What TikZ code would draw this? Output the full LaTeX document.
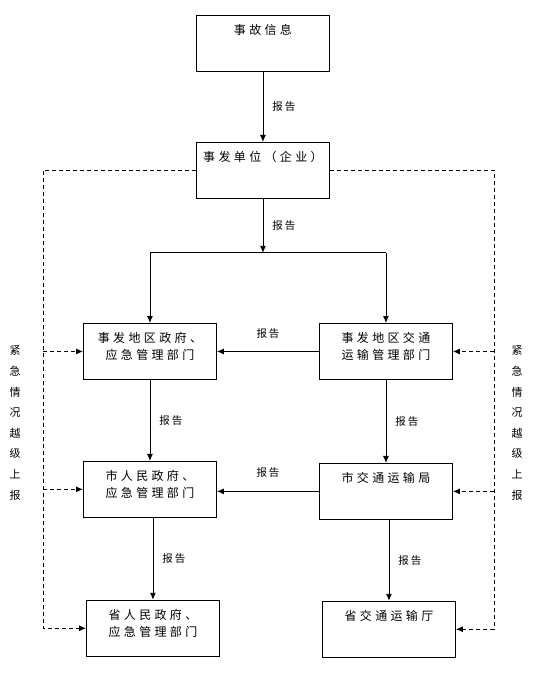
\documentclass[tikz,border=0pt]{standalone}
\usepackage{fontspec}
\newfontfamily\cjk[LetterSpace=28]{Noto Sans CJK SC}
\newfontfamily\cjklabel[LetterSpace=18]{Noto Sans CJK SC}
\newfontfamily\cjkside{Noto Sans CJK SC}
\usetikzlibrary{arrows.meta,positioning}
\newcommand{\boxtext}[1]{\parbox[c][56pt][t]{133pt}{\centering\rule{0pt}{19pt}#1}}

\begin{document}
\begin{tikzpicture}[x=1pt, y=-1pt, every node/.style={transform shape}]
\tikzset{
  box/.style={draw, line width=0.9pt, inner sep=0pt, font=\cjk\fontsize{12pt}{17pt}\selectfont},
  report/.style={font=\cjklabel\fontsize{10.5pt}{12pt}\selectfont, inner sep=1pt},
  side/.style={font=\cjkside\fontsize{11pt}{20.6pt}\selectfont, align=center, inner sep=0pt},
  link/.style={draw, line width=0.9pt},
  flow/.style={link, -{Latex[length=7pt, width=6pt]}},
  skip/.style={draw, line width=0.9pt, dash pattern=on 4pt off 3pt},
  skiparrow/.style={skip, -{Latex[length=7pt, width=6pt]}}
}
\useasboundingbox (0,0) rectangle (535,681);
\node[box, anchor=north west] (info) at (196,15) {\boxtext{事故信息}};
\node[box, below=70pt of info] (unit) {\boxtext{事发单位（企业）}};
\node[box, anchor=north west] (localgov) at (83,323) {\boxtext{事发地区政府、\\应急管理部门}};
\node[box, anchor=north west] (localtrans) at (319,323) {\boxtext{事发地区交通\\运输管理部门}};
\node[box, below=81pt of localgov] (citygov) {\boxtext{市人民政府、\\应急管理部门}};
\node[box, below=83pt of localtrans] (citytrans) {\boxtext{市交通运输局}};
\node[box, below=82pt of citygov, xshift=3pt] (provgov) {\boxtext{省人民政府、\\应急管理部门}};
\node[box, below=81pt of citytrans, xshift=3pt] (provtrans) {\boxtext{省交通运输厅}};
\node[side] (leftnote) at (15,423) {紧\\急\\情\\况\\越\\级\\上\\报};
\node[side] (rightnote) at (517,423) {紧\\急\\情\\况\\越\\级\\上\\报};
\coordinate[below=54pt of unit.south] (split);
\coordinate (leftrail) at (43,0);
\coordinate (rightrail) at (494,0);
% reporting chain
\draw[flow] (info) -- node[report, right=8pt] {报告} (unit);
\draw[flow] (unit.south) -- node[report, right=8pt] {报告} (split);
\draw[link] (localgov.north |- split) -- (localtrans.north |- split);
\draw[flow] (localgov.north |- split) -- (localgov.north);
\draw[flow] (localtrans.north |- split) -- (localtrans.north);
\draw[flow] (localtrans) -- node[report, above=12pt] {报告} (localgov);
\draw[flow] (citytrans.west) -- node[report, above=12pt] {报告} (citytrans.west -| citygov.east);
\draw[flow] (localgov) -- node[report, right=8pt] {报告} (citygov);
\draw[flow] (localtrans) -- node[report, right=8pt] {报告} (citytrans);
\draw[flow] (provgov.north |- citygov.south) -- node[report, right=8pt] {报告} (provgov.north);
\draw[flow] (provtrans.north |- citytrans.south) -- node[report, right=8pt] {报告} (provtrans.north);
% emergency bypass
\draw[skiparrow] (unit.west) -| (leftrail |- provgov.west) -- (provgov.west);
\draw[skiparrow] (leftrail |- localgov.west) -- (localgov.west);
\draw[skiparrow] (leftrail |- citygov.west) -- (citygov.west);
\draw[skiparrow] (unit.east) -| (rightrail |- provtrans.east) -- (provtrans.east);
\draw[skiparrow] (rightrail |- localtrans.east) -- (localtrans.east);
\draw[skiparrow] (rightrail |- citytrans.east) -- (citytrans.east);
\end{tikzpicture}
\end{document}
